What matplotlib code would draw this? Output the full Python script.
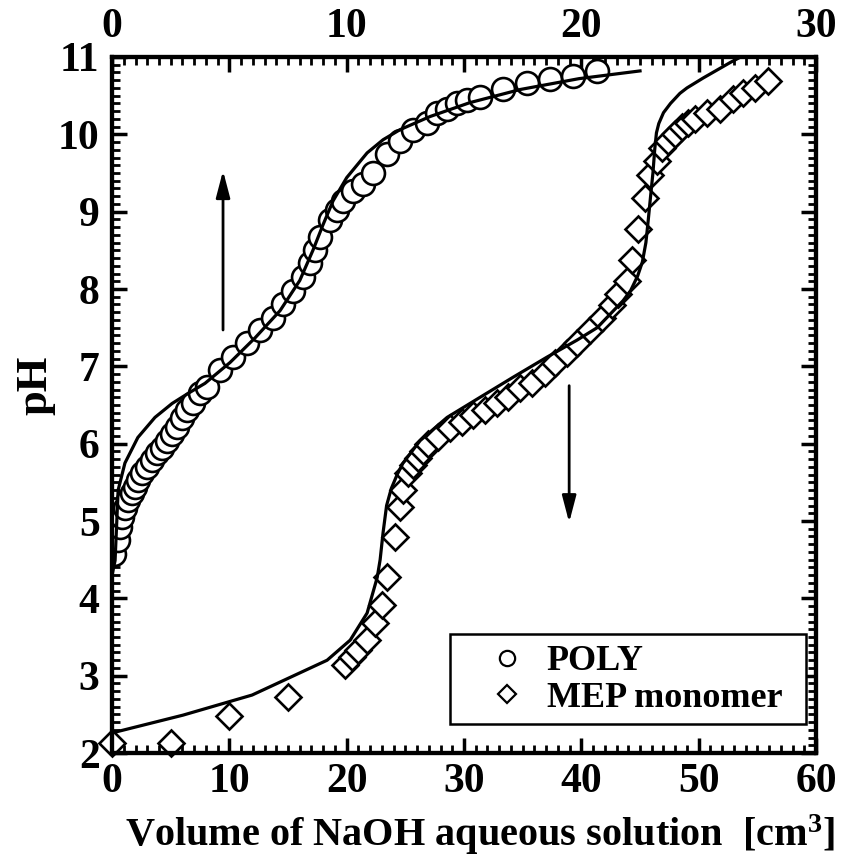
import matplotlib
matplotlib.use("Agg")
import matplotlib.pyplot as plt
from matplotlib.ticker import MultipleLocator, FuncFormatter
from matplotlib.lines import Line2D
from matplotlib.patches import Rectangle

plt.rcParams['font.family'] = ['Liberation Serif', 'DejaVu Serif']
plt.rcParams['font.weight'] = 'bold'
plt.rcParams['mathtext.fontset'] = 'custom'
plt.rcParams['mathtext.rm'] = 'Liberation Serif:bold'
plt.rcParams['mathtext.bf'] = 'Liberation Serif:bold'
plt.rcParams['mathtext.it'] = 'Liberation Serif:bold'

# POLY data (top axis, 0-30)
poly_v = [0.09, 0.26, 0.34, 0.43, 0.55, 0.68, 0.85, 0.98, 1.11, 1.28, 1.49, 1.7, 1.92,
          2.13, 2.34, 2.56, 2.77, 2.98, 3.2, 3.45, 3.75, 4.05, 4.6, 5.16, 5.75, 6.3,
          6.86, 7.29, 7.71, 8.14, 8.44, 8.65, 8.86, 9.29, 9.59, 9.84, 10.27, 10.69,
          11.12, 11.72, 12.27, 12.82, 13.42, 13.85, 14.27, 14.7, 15.13, 15.68, 16.66,
          17.68, 18.66, 19.64, 20.66]
poly_ph = [4.58, 4.75, 4.92, 5.05, 5.17, 5.27, 5.36, 5.44, 5.53, 5.62, 5.7, 5.79, 5.88,
           5.95, 6.04, 6.13, 6.21, 6.33, 6.43, 6.53, 6.65, 6.73, 6.95, 7.12, 7.3, 7.47,
           7.63, 7.81, 7.98, 8.15, 8.33, 8.5, 8.67, 8.89, 9.02, 9.14, 9.27, 9.36,
           9.5, 9.75, 9.92, 10.05, 10.15, 10.27, 10.33, 10.4, 10.44, 10.48, 10.59,
           10.66, 10.72, 10.76, 10.82]

# POLY fitted curve (top axis)
poly_fit_v = [0.0, 0.13, 0.26, 0.55, 1.1, 1.83, 2.56, 3.24, 3.96, 5.03, 6.1, 7.16, 8.0,
              8.56, 8.99, 9.42, 10.0, 10.87, 11.55, 12.27, 13.55, 15.25, 17.4, 19.9, 22.5]
poly_fit_ph = [4.3, 4.49, 5.4, 5.75, 6.08, 6.34, 6.52, 6.65, 6.78, 7.05, 7.37, 7.72, 8.11,
               8.5, 8.83, 9.14, 9.44, 9.76, 9.93, 10.06, 10.23, 10.41, 10.58, 10.72, 10.82]

# MEP monomer data (bottom axis, 0-60)
mep_v = [0, 5, 10, 15, 19.86, 20.46, 20.97, 21.74, 22.42, 23.02, 23.44, 24.13, 24.55,
         24.8, 25.23, 25.66, 26.09, 26.5, 26.94, 27.8, 28.8, 29.84, 30.78, 31.8, 32.8,
         33.76, 34.8, 35.8, 36.9, 37.77, 38.8, 39.6, 40.75, 41.77, 42.63, 43.14, 43.9,
         44.33, 44.84, 45.43, 45.86, 46.46, 46.89, 47.4, 48.0, 48.6, 49.1, 49.7, 50.7,
         51.8, 52.9, 53.8, 54.8, 55.9]
mep_ph = [2.13, 2.13, 2.48, 2.72, 3.14, 3.24, 3.33, 3.46, 3.68, 3.91, 4.27, 4.79, 5.18,
          5.4, 5.62, 5.72, 5.82, 5.91, 6.0, 6.08, 6.2, 6.28, 6.37, 6.43, 6.52,
          6.6, 6.72, 6.79, 6.91, 7.04, 7.17, 7.3, 7.47, 7.63, 7.79, 7.94, 8.11,
          8.37, 8.78, 9.18, 9.47, 9.66, 9.82, 9.92, 10.01, 10.09, 10.15, 10.2, 10.27,
          10.33, 10.46, 10.54, 10.6, 10.69]

# MEP fitted curve (bottom axis)
mep_fit_v = [0, 6.05, 11.94, 18.33, 20.3, 21.74, 22.6, 22.85, 23.1, 23.4, 23.8, 24.3,
             24.8, 26.26, 28.56, 31.37, 34.19, 37.08, 39.64, 41.35, 43.56, 44.2, 44.8,
             45.2, 45.5, 45.7, 45.9, 46.1, 46.25, 46.4, 46.6, 47.0, 47.6, 48.4, 49.0,
             50.4, 52.7, 54.2]
mep_fit_ph = [2.26, 2.49, 2.75, 3.2, 3.46, 3.81, 4.27, 4.5, 4.85, 5.2, 5.42, 5.6,
              5.75, 6.04, 6.34, 6.6, 6.86, 7.12, 7.34, 7.5, 7.85, 7.98, 8.17,
              8.35, 8.6, 8.89, 9.2, 9.5, 9.8, 10.02, 10.14, 10.28, 10.4, 10.53, 10.6,
              10.73, 10.93, 11.05]

labels = ['POLY', 'MEP monomer']
xlabel = 'Volume of NaOH aqueous solution  [cm$^{3}$]'
ylabel = 'pH'

fig = plt.figure(figsize=(8.43, 8.61), dpi=100)
ax = fig.add_axes([0.1329, 0.1254, 0.8351, 0.8084])
ax2 = ax.twiny()

lw = 2.3
ax.plot(mep_fit_v, mep_fit_ph, color='black', lw=lw, zorder=3, clip_on=True)
ax.plot(mep_v, mep_ph, linestyle='none', marker='D', markersize=13.5,
        markerfacecolor='white', markeredgecolor='black', markeredgewidth=1.9,
        zorder=2, clip_on=False)
ax2.plot(poly_fit_v, poly_fit_ph, color='black', lw=lw, zorder=3)
ax2.plot(poly_v, poly_ph, linestyle='none', marker='o', markersize=16.5,
         markerfacecolor='white', markeredgecolor='black', markeredgewidth=1.9,
         zorder=2)

ax.set_xlim(0, 60)
ax.set_ylim(2, 11)
ax2.set_xlim(0, 30)

ax.xaxis.set_major_locator(MultipleLocator(10))
ax.xaxis.set_minor_locator(MultipleLocator(1))
ax.yaxis.set_major_locator(MultipleLocator(1))
ax.yaxis.set_minor_locator(MultipleLocator(0.1))
ax2.xaxis.set_major_locator(MultipleLocator(5))
ax2.xaxis.set_minor_locator(MultipleLocator(0.5))
ax2.xaxis.set_major_formatter(FuncFormatter(lambda v, p: f'{int(round(v))}' if abs(v % 10) < 1e-6 else ''))

fs = 30
ax.tick_params(axis='both', which='major', direction='in', length=11, width=2.5,
               labelsize=fs, pad=7)
ax.tick_params(axis='y', which='major', pad=9)
ax.tick_params(axis='both', which='minor', direction='in', length=6, width=2.0)
ax.tick_params(axis='y', which='both', right=True)
ax.tick_params(axis='x', which='both', top=False)
ax2.tick_params(axis='x', which='major', direction='in', length=11, width=2.5,
                labelsize=fs, pad=8)
ax2.tick_params(axis='x', which='minor', direction='in', length=6, width=2.0)

for a in (ax, ax2):
    for s in a.spines.values():
        s.set_linewidth(3)

ax.set_xlabel(xlabel, fontsize=29, fontweight='bold', labelpad=8)
ax.xaxis.set_label_coords(0.523, -0.085)
ax.set_ylabel(ylabel, fontsize=32, fontweight='bold')
ax.yaxis.set_label_coords(-0.08, 0.529)

# arrows
astyle = '-|>,head_length=0.65,head_width=0.17'
ax.annotate('', xy=(9.46, 9.53), xytext=(9.46, 7.47),
            arrowprops=dict(arrowstyle=astyle, color='black', lw=2,
                            mutation_scale=25, shrinkA=0, shrinkB=0))
ax.annotate('', xy=(38.96, 4.98), xytext=(38.96, 6.75),
            arrowprops=dict(arrowstyle=astyle, color='black', lw=2,
                            mutation_scale=25, shrinkA=0, shrinkB=0))

# legend frame
ax2.add_patch(Rectangle((0.480, 0.042), 0.506, 0.129, transform=ax2.transAxes,
                        facecolor='white', edgecolor='black', lw=1.8, zorder=4))

handles = [Line2D([], [], linestyle='none', marker='o', markersize=11,
                  markerfacecolor='white', markeredgecolor='black', markeredgewidth=1.6),
           Line2D([], [], linestyle='none', marker='D', markersize=9.5,
                  markerfacecolor='white', markeredgecolor='black', markeredgewidth=1.6)]
leg = ax2.legend(handles, labels, loc='center left', bbox_to_anchor=(0.5355, 0.105),
                 prop={'family': 'Liberation Serif', 'weight': 'bold', 'size': 26},
                 frameon=False, handletextpad=0.6, handlelength=1.0, borderpad=0,
                 labelspacing=0.1, borderaxespad=0)
leg.set_zorder(5)

fig.savefig('out.png', dpi=100)
